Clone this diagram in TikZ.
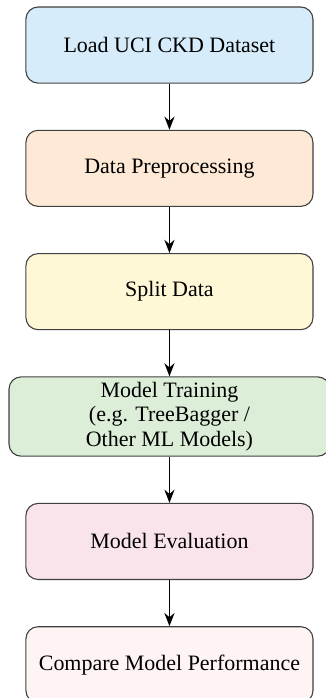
\documentclass[tikz,border=0pt]{standalone}
\usepackage{fontspec}
\setmainfont{Liberation Serif}
\usepackage{tikz}
\usetikzlibrary{positioning, arrows.meta}

\definecolor{loadblue}{RGB}{214,236,250}
\definecolor{preporange}{RGB}{253,233,214}
\definecolor{splityellow}{RGB}{255,248,214}
\definecolor{traingreen}{RGB}{220,238,215}
\definecolor{evalpink}{RGB}{250,228,235}
\definecolor{comparerose}{RGB}{253,244,243}

\tikzset{
    stage/.style={draw=black!75, line width=0.5pt, rounded corners=5.5pt,
        minimum width=130.6pt, minimum height=34.6pt, align=center},
    flow/.style={-{Stealth[length=6pt, width=4.6pt]}, line width=0.8pt}
}

\begin{document}
\begin{tikzpicture}[node distance=21pt]
        \useasboundingbox (-77.1pt,20.5pt) rectangle (70.8pt,-297.1pt);

        \node [stage, fill=loadblue] (load){Load UCI CKD Dataset};
        \node [stage, fill=preporange, below=of load] (prep){Data Preprocessing};
        \node [stage, fill=splityellow, below=of prep] (split){Split Data};
        \node [stage, fill=traingreen, minimum width=146pt, inner ysep=2.5pt,
            font=\fontsize{10}{11}\selectfont, below=of split] (train){Model Training\\(e.g. TreeBagger /\\Other ML Models)};
        \node [stage, fill=evalpink, below=of train] (eval){Model Evaluation};
        \node [stage, fill=comparerose, below=of eval] (compare){Compare Model Performance};

        \draw [flow] (load) -- (prep);
        \draw [flow] (prep) -- (split);
        \draw [flow] (split) -- (train);
        \draw [flow] (train) -- (eval);
        \draw [flow] (eval) -- (compare);
    \end{tikzpicture}
\end{document}
